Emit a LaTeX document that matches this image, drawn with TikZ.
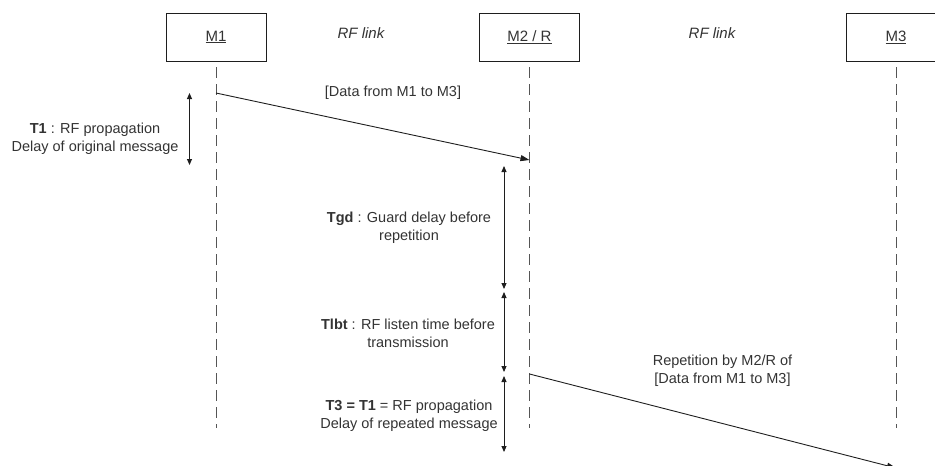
\documentclass[tikz,border=0pt]{standalone}
\usepackage{fontspec}
\setmainfont{Liberation Sans}
\usetikzlibrary{arrows.meta}
\definecolor{txt}{HTML}{333333}
\definecolor{ln}{HTML}{1E1E1E}
\definecolor{lifec}{HTML}{555555}
\tikzset{
  actor/.style={draw=ln, line width=0.9pt, minimum width=100pt, minimum height=48pt, inner sep=0pt, text=txt, font=\fontsize{15}{18}\selectfont},
  linklabel/.style={text=txt, font=\fontsize{15}{18}\selectfont\itshape},
  lifeline/.style={draw=lifec, line width=1pt, dash pattern=on 11pt off 6pt, dash phase=11pt},
  msg/.style={draw=ln, line width=0.9pt, -{Triangle[length=9pt,width=6pt]}},
  span/.style={draw=ln, line width=0.9pt, {Triangle[length=6pt,width=5pt]}-{Triangle[length=6pt,width=5pt]}},
  note/.style={text=txt, align=center, inner sep=0pt, font=\fontsize{14.5}{18}\selectfont},
}
\begin{document}
\begin{tikzpicture}[x=1pt, y=-1pt]
\useasboundingbox (0,0) rectangle (935,466);
\clip (0,0) rectangle (935,466);
% actors
\node[actor] (m1) at (216,37) {\underline{M1}};
\node[actor] (m2) at (529.5,37) {\underline{M2 / R}};
\node[actor] (m3) at (896,37) {\underline{M3}};
\node[linklabel] (rf1) at (361,33) {RF link};
\node[linklabel] (rf2) at (712,33) {RF link};
% lifelines
\coordinate (m1end) at (216,428);
\coordinate (m2end) at (529.5,428);
\coordinate (m3end) at (896,428);
\draw[lifeline] (m1.south) -- (m1end);
\draw[lifeline] (m2.south) -- (m2end);
\draw[lifeline] (m3.south) -- (m3end);
% messages
\coordinate (s1) at (216,93);
\coordinate (e1) at (529.5,160);
\coordinate (s2) at (529.5,374);
\coordinate (e2) at (896,468);
\draw[msg] (s1) -- (e1);
\draw[msg] (s2) -- (e2);
\node[note] (lab1) at (393,93) {[Data from M1 to M3]};
\node[note] (lab2) at (722.5,371) {Repetition by M2/R of\\{}[Data from M1 to M3]};
% spans
\coordinate (t1a) at (189.5,93);
\coordinate (t1b) at (189.5,165);
\draw[span] (t1a) -- (t1b);
\node[note] (t1) at (95,139) {\textbf{T1} : RF propagation\\Delay of original message};
\coordinate (tga) at (504,166);
\coordinate (tgb) at (504,289);
\draw[span] (tga) -- (tgb);
\node[note] (tgd) at (409,228) {\textbf{Tgd} : Guard delay before\\repetition};
\coordinate (tla) at (504,292);
\coordinate (tlb) at (504,372);
\draw[span] (tla) -- (tlb);
\node[note] (tlbt) at (408,333.5) {\textbf{Tlbt} : RF listen time before\\transmission};
\coordinate (t3a) at (504,376);
\coordinate (t3b) at (504,452);
\draw[span] (t3a) -- (t3b);
\node[note] (t3) at (409,416) {\textbf{T3 = T1} = RF propagation\\Delay of repeated message};
\end{tikzpicture}
\end{document}
